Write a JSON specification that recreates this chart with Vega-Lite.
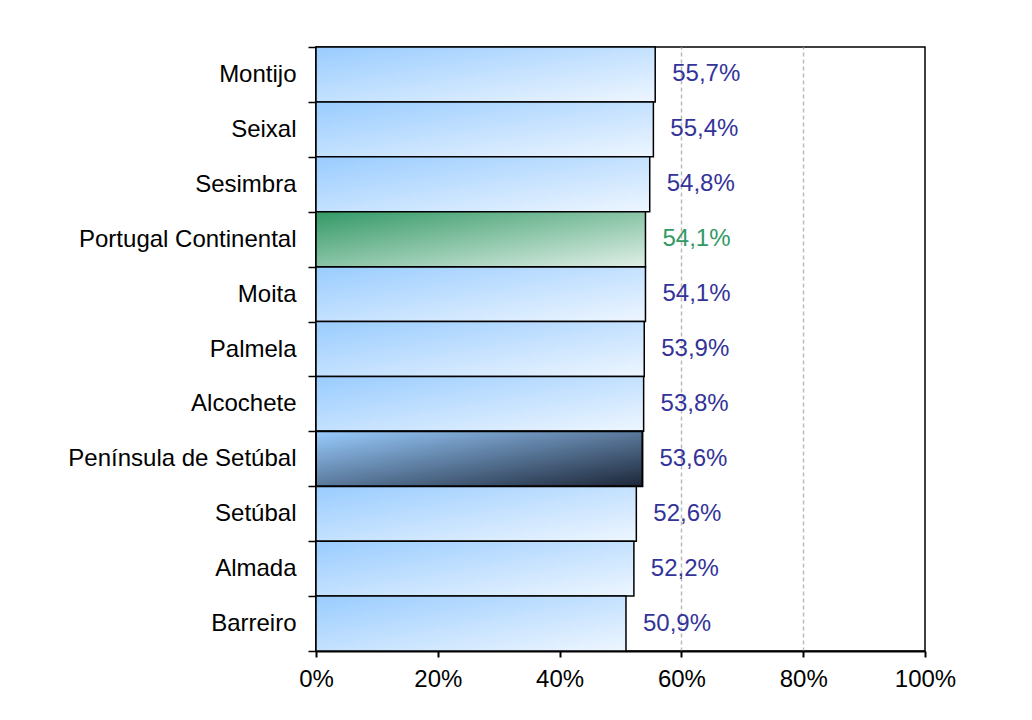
{
  "$schema": "https://vega.github.io/schema/vega-lite/v6.json",
  "width": 609,
  "height": 604,
  "autosize": {"type": "none"},
  "padding": {"left": 316, "top": 47, "right": 107, "bottom": 69},
  "background": "white",
  "config": {
    "font": "Liberation Sans",
    "locale": {"number": {"decimal": ",", "thousands": ".", "grouping": [3], "currency": ["", " €"]}},
    "view": {"stroke": "black", "strokeWidth": 1.5}
  },
  "data": {
    "values": [
      {"name": "Montijo", "value": 0.557, "kind": "mun"},
      {"name": "Seixal", "value": 0.554, "kind": "mun"},
      {"name": "Sesimbra", "value": 0.548, "kind": "mun"},
      {"name": "Portugal Continental", "value": 0.541, "kind": "pt"},
      {"name": "Moita", "value": 0.541, "kind": "mun"},
      {"name": "Palmela", "value": 0.539, "kind": "mun"},
      {"name": "Alcochete", "value": 0.538, "kind": "mun"},
      {"name": "Península de Setúbal", "value": 0.536, "kind": "ps"},
      {"name": "Setúbal", "value": 0.526, "kind": "mun"},
      {"name": "Almada", "value": 0.522, "kind": "mun"},
      {"name": "Barreiro", "value": 0.509, "kind": "mun"}
    ]
  },
  "encoding": {
    "y": {
      "field": "name", "type": "nominal",
      "sort": ["Montijo", "Seixal", "Sesimbra", "Portugal Continental", "Moita", "Palmela", "Alcochete", "Península de Setúbal", "Setúbal", "Almada", "Barreiro"],
      "scale": {"paddingInner": 0, "paddingOuter": 0},
      "axis": {
        "title": null, "tickBand": "extent", "tickSize": 8, "tickWidth": 1.5, "tickColor": "black",
        "domainColor": "black", "domainWidth": 2, "labelFontSize": 24, "labelColor": "black",
        "labelPadding": 12, "labelLimit": 0, "grid": false
      }
    },
    "x": {
      "field": "value", "type": "quantitative",
      "scale": {"domain": [0, 1], "nice": false},
      "axis": {
        "title": null, "format": ".0%", "values": [0, 0.2, 0.4, 0.6, 0.8, 1],
        "grid": true, "gridDash": [4, 3], "gridWidth": 1.5,
        "gridColor": {"condition": {"test": "datum.value === 0 || datum.value === 1", "value": "transparent"}, "value": "#BBBBBB"},
        "domainColor": "black", "domainWidth": 2, "tickColor": "black", "tickSize": 6, "tickWidth": 2,
        "labelFontSize": 24, "labelColor": "black", "labelPadding": 10,
        "labelOverlap": false, "labelFlush": false
      }
    }
  },
  "layer": [
    {
      "transform": [{"filter": "datum.kind === 'mun'"}],
      "mark": {
        "type": "bar", "stroke": "black", "strokeWidth": 1.5,
        "fill": {"gradient": "linear", "x1": 0, "y1": 0, "x2": 1, "y2": 1,
          "stops": [{"offset": 0, "color": "#99CCFF"}, {"offset": 1, "color": "#EEF6FF"}]}
      }
    },
    {
      "transform": [{"filter": "datum.kind === 'pt'"}],
      "mark": {
        "type": "bar", "stroke": "black", "strokeWidth": 1.5,
        "fill": {"gradient": "linear", "x1": 0, "y1": 0, "x2": 1, "y2": 1,
          "stops": [{"offset": 0, "color": "#339966"}, {"offset": 1, "color": "#E0EFE7"}]}
      }
    },
    {
      "transform": [{"filter": "datum.kind === 'ps'"}],
      "mark": {
        "type": "bar", "stroke": "black", "strokeWidth": 2,
        "fill": {"gradient": "linear", "x1": 0, "y1": 0, "x2": 1, "y2": 1,
          "stops": [{"offset": 0, "color": "#99CCFF"}, {"offset": 1, "color": "#1C2638"}]}
      }
    },
    {
      "mark": {"type": "text", "align": "center", "baseline": "middle", "dx": 51, "fontSize": 24},
      "encoding": {
        "text": {"field": "value", "type": "quantitative", "format": ".1%"},
        "color": {
          "condition": {"test": "datum.kind === 'pt'", "value": "#339966"},
          "value": "#333399"
        }
      }
    }
  ]
}
